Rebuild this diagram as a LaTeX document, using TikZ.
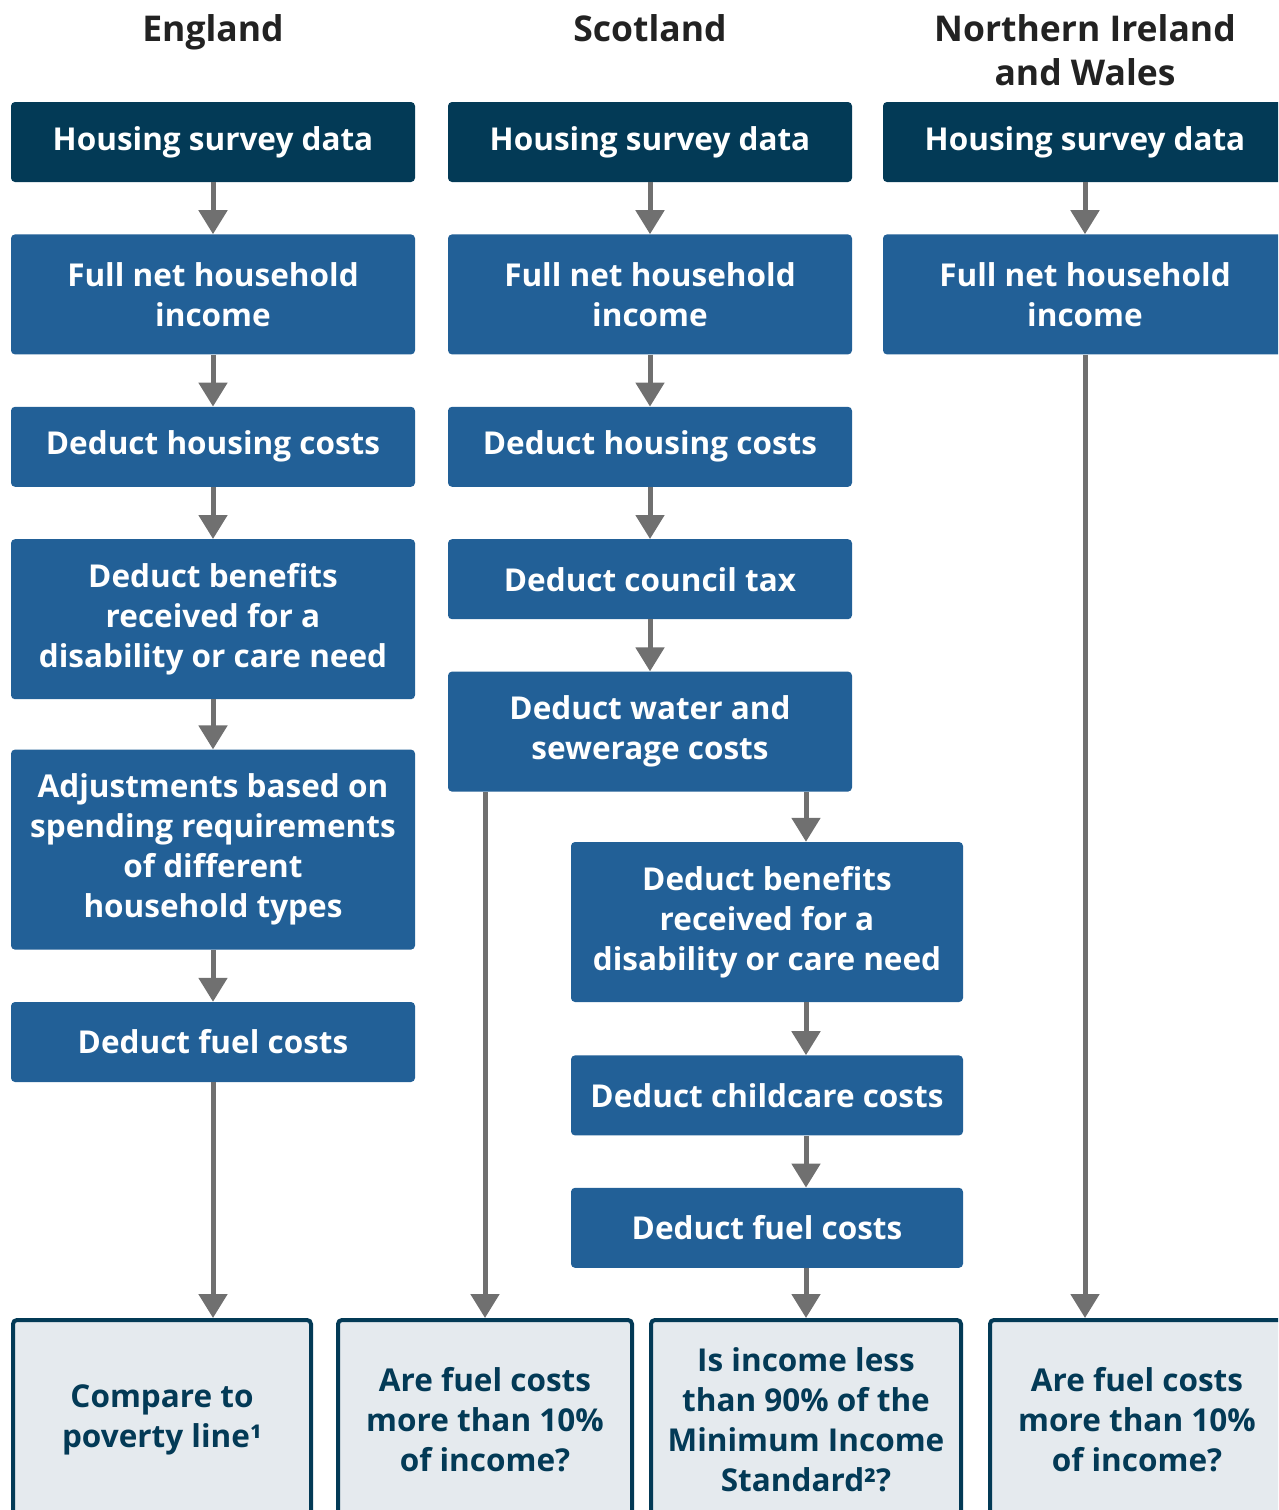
\documentclass[tikz,border=0pt]{standalone}
\usepackage{fontspec}
\setmainfont{Open Sans}
\usepackage{xcolor}
\definecolor{navy}{RGB}{3, 58, 86}
\definecolor{midblue}{RGB}{34, 96, 151}
\definecolor{palegrey}{RGB}{229, 234, 238}
\definecolor{arrowgrey}{RGB}{112, 112, 112}
\definecolor{headtext}{RGB}{34, 34, 34}
\usepackage{tikz}
\usetikzlibrary{positioning, arrows.meta}
\tikzset{
    sourcebox/.style={
        fill=navy,
        text=white,
        rounded corners=4pt,
        minimum width=404pt,
        minimum height=80pt,
        inner sep=0pt,
        align=center,
        font=\bfseries\fontsize{31.5}{40}\selectfont
    },
    stepbox/.style={
        sourcebox,
        fill=midblue
    },
    outcomebox/.style={
        draw=navy,
        line width=4pt,
        fill=palegrey,
        text=navy,
        rounded corners=4pt,
        minimum width=298pt,
        minimum height=200pt,
        inner sep=0pt,
        align=center,
        font=\bfseries\fontsize{31.5}{40}\selectfont
    },
    heading/.style={
        text=headtext,
        align=center,
        font=\bfseries\fontsize{35.5}{44}\selectfont
    },
    arrow/.style={
        -{Triangle[length=24pt,width=28pt]},
        line width=5pt,
        arrowgrey
    }
}

\begin{document}
\begin{tikzpicture}[x=1pt, y=-1pt, node distance=52pt]

\useasboundingbox (0,0) rectangle (1278,1510);
\clip (0,0) rectangle (1278,1510);

% ---------------------------------------------------------
% Headings
% ---------------------------------------------------------
\node[heading, anchor=base] (hE) at (213,41) {England};
\node[heading, anchor=base] (hS) at (650,41) {Scotland};
\node[heading] (hN) at (1085,50) {Northern Ireland\\and Wales};

% ---------------------------------------------------------
% England
% ---------------------------------------------------------
\node[sourcebox] (dataE) at (213,142) {Housing survey data};
\node[stepbox, below=of dataE, minimum height=120pt] (incE) {Full net household\\income};
\node[stepbox, below=of incE] (houseE) {Deduct housing costs};
\node[stepbox, below=of houseE, minimum height=160pt] (benE) {Deduct benefits\\received for a\\disability or care need};
\node[stepbox, below=50pt of benE, minimum height=200pt] (adjE) {Adjustments based on\\spending requirements\\of different\\household types};
\node[stepbox, below=of adjE] (fuelE) {Deduct fuel costs};

% ---------------------------------------------------------
% Scotland
% ---------------------------------------------------------
\node[sourcebox] (dataS) at (650,142) {Housing survey data};
\node[stepbox, below=of dataS, minimum height=120pt] (incS) {Full net household\\income};
\node[stepbox, below=of incS] (houseS) {Deduct housing costs};
\node[stepbox, below=of houseS] (taxS) {Deduct council tax};
\node[stepbox, below=of taxS, minimum height=120pt] (waterS) {Deduct water and\\sewerage costs};
\node[stepbox, minimum width=392pt, minimum height=160pt] (benS) at (767,922) {Deduct benefits\\received for a\\disability or care need};
\node[stepbox, minimum width=392pt, below=53pt of benS] (childS) {Deduct childcare costs};
\node[stepbox, minimum width=392pt, below=of childS] (fuelS) {Deduct fuel costs};

% ---------------------------------------------------------
% Northern Ireland and Wales
% ---------------------------------------------------------
\node[sourcebox] (dataN) at (1085,142) {Housing survey data};
\node[stepbox, below=of dataN, minimum height=120pt] (incN) {Full net household\\income};

% ---------------------------------------------------------
% Outcomes
% ---------------------------------------------------------
\node[outcomebox, minimum width=298pt] (povE) at (162,1420) {Compare to\\poverty line¹};
\node[outcomebox, minimum width=294pt] (fuelQS) at (485,1420) {Are fuel costs\\more than 10\%\\of income?};
\node[outcomebox, minimum width=310pt] (misS) at (806,1420) {Is income less\\than 90\% of the\\Minimum Income\\Standard²?};
\node[outcomebox, minimum width=294pt] (fuelQN) at (1137,1420) {Are fuel costs\\more than 10\%\\of income?};

% ---------------------------------------------------------
% Arrows
% ---------------------------------------------------------
\draw[arrow] (dataE) -- (incE);
\draw[arrow] (incE) -- (houseE);
\draw[arrow] (houseE) -- (benE);
\draw[arrow] (benE) -- (adjE);
\draw[arrow] (adjE) -- (fuelE);
\draw[arrow] (fuelE.south) -- (fuelE.south |- povE.north);

\draw[arrow] (dataS) -- (incS);
\draw[arrow] (incS) -- (houseS);
\draw[arrow] (houseS) -- (taxS);
\draw[arrow] (taxS) -- (waterS);
\draw[arrow] (waterS.south -| fuelQS.north) -- (fuelQS.north);
\draw[arrow] (waterS.south -| misS.north) -- (benS.north -| misS.north);
\draw[arrow] (benS.south -| misS.north) -- (childS.north -| misS.north);
\draw[arrow] (childS.south -| misS.north) -- (fuelS.north -| misS.north);
\draw[arrow] (fuelS.south -| misS.north) -- (misS.north);

\draw[arrow] (dataN) -- (incN);
\draw[arrow] (incN.south) -- (incN.south |- fuelQN.north);

\end{tikzpicture}
\end{document}
